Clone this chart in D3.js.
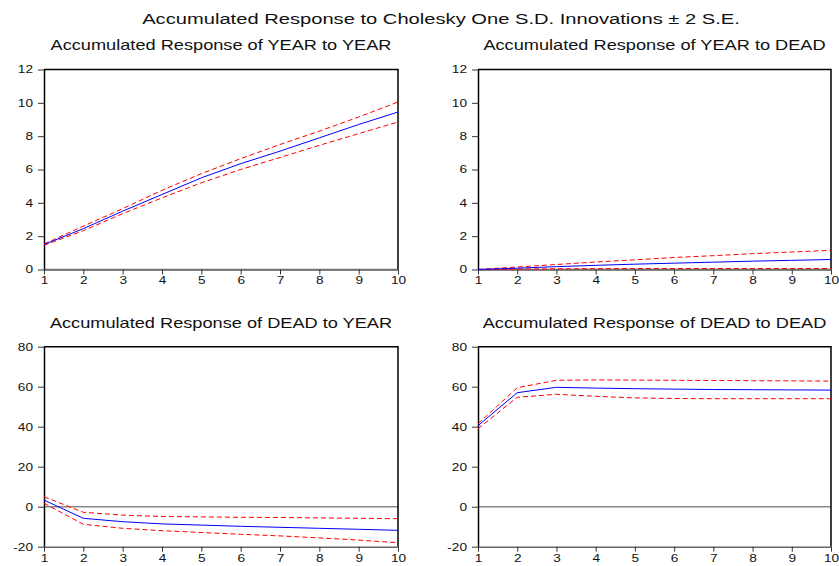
<!DOCTYPE html>
<html>
<head>
<meta charset="utf-8">
<script src="https://cdn.jsdelivr.net/npm/d3@7"></script>
<style>
body { margin: 0; background: #fff; }
svg { font-family: "Liberation Sans", Arial, sans-serif; }
</style>
</head>
<body>
<svg width="839" height="566"></svg>
<script>
var periods = [1, 2, 3, 4, 5, 6, 7, 8, 9, 10];
var yearTicks = [0, 2, 4, 6, 8, 10, 12];
var deadTicks = [-20, 0, 20, 40, 60, 80];

// YEAR to YEAR
var yyMid = [1.5, 2.45, 3.5, 4.5, 5.5, 6.35, 7.1, 7.9, 8.7, 9.45];
var yyUp  = [1.53, 2.6, 3.65, 4.75, 5.75, 6.65, 7.5, 8.3, 9.15, 10.05];
var yyLo  = [1.45, 2.33, 3.35, 4.3, 5.2, 6.0, 6.72, 7.45, 8.15, 8.85];
// YEAR to DEAD
var ydMid = [0, 0.08, 0.17, 0.25, 0.32, 0.38, 0.44, 0.5, 0.55, 0.6];
var ydUp  = [0, 0.15, 0.3, 0.45, 0.58, 0.72, 0.83, 0.95, 1.05, 1.15];
var ydLo  = [0, 0.02, 0.04, 0.05, 0.06, 0.06, 0.06, 0.06, 0.06, 0.06];
// DEAD to YEAR
var dyMid = [3.3, -5.8, -7.5, -8.6, -9.2, -9.8, -10.3, -10.8, -11.3, -11.8];
var dyUp  = [5, -2.8, -4.2, -4.9, -5.1, -5.3, -5.4, -5.6, -5.8, -6];
var dyLo  = [1.7, -8.8, -10.8, -12, -12.9, -13.8, -14.6, -15.6, -16.7, -18];
// DEAD to DEAD
var ddMid = [40.5, 57, 59.7, 59.3, 59, 58.8, 58.6, 58.5, 58.4, 58.3];
var ddUp  = [41.5, 59.5, 63.2, 63.4, 63.3, 63.2, 63.1, 63, 62.9, 62.8];
var ddLo  = [39, 54.7, 56.2, 55.2, 54.4, 54.1, 54, 54, 54, 54];

var mainTitle = "Accumulated Response to Cholesky One S.D. Innovations \u00b1 2 S.E.";

var stretch = 1.3;   // text in the picture is wider than plain Arial

var panels = [
    {title: "Accumulated Response of YEAR to YEAR", mid: yyMid, up: yyUp, lo: yyLo, ticks: yearTicks,
     left: 44, right: 398, top: 69.5, bottom: 269.5, titleY: 50},
    {title: "Accumulated Response of YEAR to DEAD", mid: ydMid, up: ydUp, lo: ydLo, ticks: yearTicks,
     left: 478, right: 831, top: 69.5, bottom: 269.5, titleY: 50},
    {title: "Accumulated Response of DEAD to YEAR", mid: dyMid, up: dyUp, lo: dyLo, ticks: deadTicks,
     left: 44, right: 398, top: 346.7, bottom: 546.7, titleY: 327.5},
    {title: "Accumulated Response of DEAD to DEAD", mid: ddMid, up: ddUp, lo: ddLo, ticks: deadTicks,
     left: 478, right: 831, top: 346.7, bottom: 546.7, titleY: 327.5}
];

// plain hyphen for negatives, like the original
function plain(d) { return String(d); }

var svg = d3.select("svg");

svg.append("text")
    .attr("transform", "translate(441,23.5) scale(" + stretch + ",1)")
    .attr("text-anchor", "middle")
    .attr("font-size", 15.5)
    .attr("fill", "#111")
    .text(mainTitle);

panels.forEach(function(p) {
    var x = d3.scaleLinear().domain([1, 10]).range([p.left, p.right]),
        y = d3.scaleLinear().domain([p.ticks[0], p.ticks[p.ticks.length - 1]]).range([p.bottom, p.top]);

    var g = svg.append("g");

    g.append("text")
        .attr("transform", "translate(" + ((p.left + p.right) / 2) + "," + p.titleY + ") scale(" + stretch + ",1)")
        .attr("text-anchor", "middle")
        .attr("font-size", 14)
        .attr("fill", "#111")
        .text(p.title);

    // zero line
    g.append("line")
        .attr("x1", p.left).attr("x2", p.right)
        .attr("y1", y(0)).attr("y2", y(0))
        .attr("stroke", "#888").attr("stroke-width", 1.5);

    // top and right border
    g.append("path")
        .attr("d", "M" + p.left + "," + p.top + "H" + p.right + "V" + p.bottom)
        .attr("fill", "none").attr("stroke", "#000").attr("stroke-width", 1.5);

    var yAxis = g.append("g")
        .attr("transform", "translate(" + p.left + ",0)")
        .call(d3.axisLeft(y).tickValues(p.ticks).tickFormat(plain).tickSize(6).tickPadding(2.5).tickSizeOuter(0));
    yAxis.select(".domain").attr("stroke", "#000").attr("stroke-width", 1.5);
    yAxis.selectAll(".tick line").attr("stroke", "#333");
    yAxis.selectAll(".tick text")
        .attr("font-size", 10.5).attr("fill", "#111")
        .attr("font-family", "Liberation Sans, Arial, sans-serif")
        .attr("transform", "scale(" + stretch + ",1)");

    var xAxis = g.append("g")
        .attr("transform", "translate(0," + p.bottom + ")")
        .call(d3.axisBottom(x).tickValues(periods).tickFormat(plain).tickSize(5).tickPadding(2.5).tickSizeOuter(0));
    xAxis.select(".domain").attr("stroke", "#666").attr("stroke-width", 1.5);
    xAxis.selectAll(".tick line").attr("stroke", "#333");
    xAxis.selectAll(".tick text")
        .attr("font-size", 10.5).attr("fill", "#111")
        .attr("font-family", "Liberation Sans, Arial, sans-serif")
        .attr("transform", "scale(" + stretch + ",1)");

    var line = d3.line()
        .x(function(d, i) { return x(periods[i]); })
        .y(function(d) { return y(d); });

    g.append("path").datum(p.up)
        .attr("d", line).attr("fill", "none")
        .attr("stroke", "#ff0000").attr("stroke-width", 1).attr("stroke-dasharray", "5,3");
    g.append("path").datum(p.lo)
        .attr("d", line).attr("fill", "none")
        .attr("stroke", "#ff0000").attr("stroke-width", 1).attr("stroke-dasharray", "5,3");
    g.append("path").datum(p.mid)
        .attr("d", line).attr("fill", "none")
        .attr("stroke", "#0000ff").attr("stroke-width", 1);
});
</script>
</body>
</html>
